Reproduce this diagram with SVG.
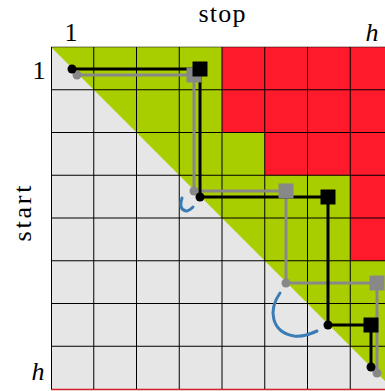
<svg xmlns="http://www.w3.org/2000/svg" width="385" height="391" viewBox="0 0 385 391">
<style>
.lbl{font-family:"Liberation Serif","DejaVu Serif",serif;font-size:26px;fill:#000}
.it{font-style:italic}
.grid line{stroke:#000;stroke-width:1}
.blk{stroke:#000;stroke-width:3;fill:none}
.gry{stroke:#888;stroke-width:3;fill:none}
.arc{stroke:#3a7db5;stroke-width:3;fill:none;stroke-linecap:round}
</style>
<rect width="385" height="391" fill="#fff"/>
<g id="board">
<rect x="51" y="47" width="342" height="342" fill="#a8ce00"/>
<polygon points="51,47 51,389 393,389" fill="#e6e6e6"/>
<polygon points="222,47 393,47 393,260.75 350.25,260.75 350.25,175.25 264.75,175.25 264.75,132.5 222,132.5" fill="#ff1a2b"/>
<line x1="51" y1="389.5" x2="385" y2="389.5" stroke="#d0202a" stroke-width="1.5"/>
</g>
<g class="grid" id="grid">
<line x1="51" y1="47" x2="393" y2="47" stroke-opacity="0.5"/>
<line x1="51" y1="89.75" x2="393" y2="89.75"/>
<line x1="51" y1="132.5" x2="393" y2="132.5"/>
<line x1="51" y1="175.25" x2="393" y2="175.25"/>
<line x1="51" y1="218" x2="393" y2="218"/>
<line x1="51" y1="260.75" x2="393" y2="260.75"/>
<line x1="51" y1="303.5" x2="393" y2="303.5"/>
<line x1="51" y1="346.25" x2="393" y2="346.25"/>
<line x1="51.5" y1="47" x2="51.5" y2="389"/>
<line x1="93.75" y1="47" x2="93.75" y2="389"/>
<line x1="136.5" y1="47" x2="136.5" y2="389"/>
<line x1="179.25" y1="47" x2="179.25" y2="389"/>
<line x1="222" y1="47" x2="222" y2="389"/>
<line x1="264.75" y1="47" x2="264.75" y2="389"/>
<line x1="307.5" y1="47" x2="307.5" y2="389"/>
<line x1="350.25" y1="47" x2="350.25" y2="389"/>
</g>
<g id="labels">
<text class="lbl" x="222" y="22" text-anchor="middle" textLength="47" lengthAdjust="spacing">stop</text>
<text class="lbl" x="71" y="41" text-anchor="middle">1</text>
<text class="lbl it" x="372" y="41" text-anchor="middle">h</text>
<text class="lbl" x="39" y="79" text-anchor="middle">1</text>
<text class="lbl it" x="38" y="380" text-anchor="middle">h</text>
<text class="lbl" transform="translate(31,213.5) rotate(-90)" text-anchor="middle" textLength="56" lengthAdjust="spacing">start</text>
</g>
<g id="connectors">
<polyline id="grey-path" class="gry" points="77,75 194,75 194,191 286,191 286,283 377,283 377,373"/>
<polyline id="black-path" class="blk" points="72,69 200,69 200,197 328,197 328,325 371,325 371,367"/>
<path id="arc-small" class="arc" d="M182,198 C180,204 180,210 186,211 C189,211 191,209 193,207"/>
<path id="arc-large" class="arc" d="M280,293 C268,310 271,332 294,336 C303,337 310,334 317,331"/>
</g>
<g id="grey-nodes" fill="#888">
<circle id="g1" cx="77" cy="75" r="4.5"/>
<rect id="g2" x="186.5" y="67.5" width="15" height="15"/>
<circle id="g3" cx="194" cy="191" r="4.5"/>
<rect id="g4" x="278.5" y="183.5" width="15" height="15"/>
<circle id="g5" cx="286" cy="283" r="4.5"/>
<rect id="g6" x="369.5" y="275.5" width="15" height="15"/>
<circle id="g7" cx="377" cy="373" r="4.5"/>
</g>
<g id="black-nodes" fill="#000">
<circle id="b1" cx="72" cy="69" r="4.5"/>
<rect id="b2" x="192.5" y="61.5" width="15" height="15"/>
<circle id="b3" cx="200" cy="197" r="4.5"/>
<rect id="b4" x="320.5" y="189.5" width="15" height="15"/>
<circle id="b5" cx="328" cy="325" r="4.5"/>
<rect id="b6" x="363.5" y="317.5" width="15" height="15"/>
<circle id="b7" cx="371" cy="367" r="4.5"/>
</g>
</svg>
